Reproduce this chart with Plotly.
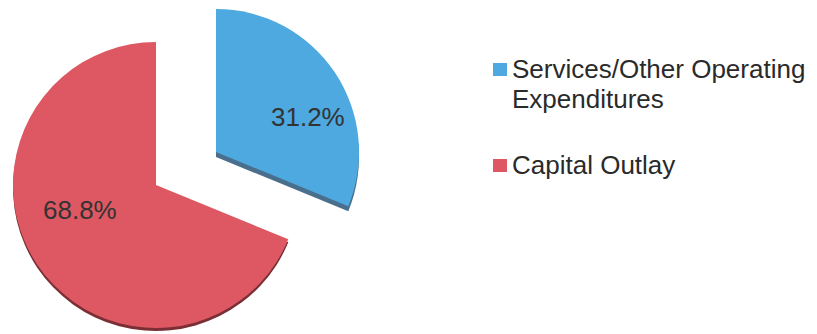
import plotly.graph_objects as go

# Figure size in pixels
W, H = 817, 334

# Data
categories = ["Services/Other Operating Expenditures", "Capital Outlay"]
shares = [31.2, 68.8]
legend_lines = [["Services/Other Operating", "Expenditures"], ["Capital Outlay"]]

# Styling
colors = ["#4DA9DF", "#DD5862"]
edge_colors = ["#4A6F8C", "#7A2E35"]
CLEAR = "rgba(0,0,0,0)"
RADIUS = 143
# pie centre for each slice (the services slice is exploded up and right)
centers = [(216, 152), (156, 185)]
depth = [5, 3]          # thickness of the darker rim under each slice
label_pos = [(307.5, 116.5), (79.5, 210)]
legend_text_x = 510
legend_line_y = [[69, 99], [165]]
legend_box_y = [(63, 76), (159, 172)]


def px_x(x):
    return x / W


def px_y(y):
    return 1 - y / H


def domain(cx, cy, r):
    return dict(x=[px_x(cx - r), px_x(cx + r)], y=[px_y(cy + r), px_y(cy - r)])


def slice_trace(idx, color, cx, cy):
    cols = [color if j == idx else CLEAR for j in range(len(shares))]
    return go.Pie(
        labels=categories,
        values=shares,
        sort=False,
        direction="clockwise",
        rotation=0,
        marker=dict(colors=cols, line=dict(width=0)),
        textinfo="none",
        hoverinfo="skip",
        showlegend=False,
        domain=domain(cx, cy, RADIUS),
    )


fig = go.Figure()

# darker rims first, then the slice faces on top
for i, (cx, cy) in enumerate(centers):
    fig.add_trace(slice_trace(i, edge_colors[i], cx, cy + depth[i]))
for i, (cx, cy) in enumerate(centers):
    fig.add_trace(slice_trace(i, colors[i], cx, cy))

annotations = []
total = sum(shares)
for i, v in enumerate(shares):
    x, y = label_pos[i]
    annotations.append(dict(
        x=px_x(x), y=px_y(y), xref="paper", yref="paper",
        text=f"{100 * v / total:.1f}%", showarrow=False,
        xanchor="center", yanchor="middle",
        font=dict(family="Liberation Sans, Arial, sans-serif", size=26, color="#333333"),
    ))

shapes = []
for i, lines in enumerate(legend_lines):
    for line, y in zip(lines, legend_line_y[i]):
        annotations.append(dict(
            x=px_x(legend_text_x), y=px_y(y), xref="paper", yref="paper",
            text=line, showarrow=False, xanchor="left", yanchor="middle",
            font=dict(family="Liberation Sans, Arial, sans-serif", size=26, color="#2a2a2a"),
        ))
    y0, y1 = legend_box_y[i]
    shapes.append(dict(
        type="rect", xref="paper", yref="paper",
        x0=px_x(493), x1=px_x(507), y0=px_y(y1), y1=px_y(y0),
        fillcolor=colors[i], line=dict(width=0),
    ))

fig.update_layout(
    width=W, height=H,
    margin=dict(l=0, r=0, t=0, b=0),
    paper_bgcolor="white", plot_bgcolor="white",
    annotations=annotations,
    shapes=shapes,
    showlegend=False,
)

fig.write_html("out.html")
